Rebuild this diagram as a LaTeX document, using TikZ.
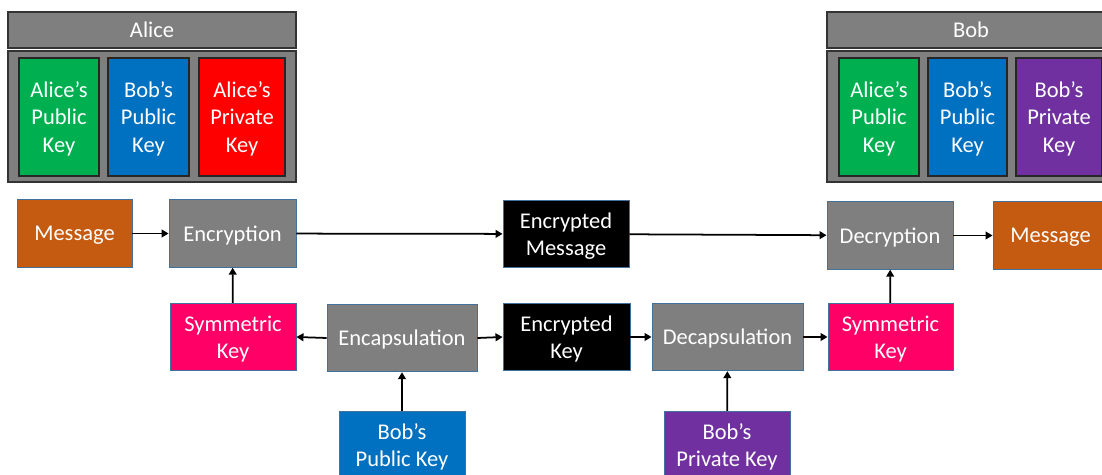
\documentclass[tikz,border=0pt]{standalone}
\usepackage{fontspec}
\setmainfont{Carlito}
\usetikzlibrary{arrows.meta}
\definecolor{boxgrey}{RGB}{127,127,127}
\definecolor{edgeblue}{RGB}{65,113,156}
\definecolor{keygreen}{RGB}{0,176,80}
\definecolor{keyblue}{RGB}{0,112,192}
\definecolor{keyred}{RGB}{255,0,0}
\definecolor{keypurple}{RGB}{112,48,160}
\definecolor{msgorange}{RGB}{197,90,17}
\definecolor{sympink}{RGB}{255,0,102}
\tikzset{
    base/.style={
        text=white,
        align=center,
        inner sep=0pt,
        text depth=0pt,
        font=\fontsize{12.8}{15.5}\selectfont,
    },
    % Owner title bar
    head/.style={
        base,
        draw=black!80,
        fill=boxgrey,
        line width=0.8pt,
        minimum width=5.76cm,
        minimum height=0.72cm,
    },
    % Key store
    store/.style={
        draw=black!80,
        fill=boxgrey,
        line width=0.8pt,
        minimum width=5.76cm,
        minimum height=2.62cm,
    },
    % Stored key
    key/.style={
        base,
        draw=black!85,
        line width=0.8pt,
        minimum width=1.6cm,
        minimum height=2.36cm,
    },
    % Flow step
    stage/.style={
        base,
        draw=edgeblue,
        line width=0.5pt,
        minimum width=2.52cm,
        minimum height=1.35cm,
    },
    flow/.style={
        -{Triangle[length=4pt,width=4.4pt]},
        line width=1pt,
    },
}

\begin{document}
\begin{tikzpicture}[x=0.02cm,y=-0.02cm]
    \clip (0,0) rectangle (1102,475);
%OWNERS_BEGIN%
    \node[head] (alice) at (152,30) {Alice};
    \node[store] (aliceStore) at (152,116.5) {};
    \node[key,fill=keygreen] (aPubA) at (59,117) {Alice's\\Public\\Key};
    \node[key,fill=keyblue,minimum width=1.62cm] (aPubB) at (148.5,117) {Bob's\\Public\\Key};
    \node[key,fill=keyred,minimum width=1.72cm] (aPrivA) at (242,117) {Alice's\\Private\\Key};

    \node[head] (bob) at (971,30) {Bob};
    \node[store] (bobStore) at (971,116.5) {};
    \node[key,fill=keygreen] (bPubA) at (879,117) {Alice's\\Public\\Key};
    \node[key,fill=keyblue,minimum width=1.58cm] (bPubB) at (967.5,117) {Bob's\\Public\\Key};
    \node[key,fill=keypurple,minimum width=1.72cm] (bPrivB) at (1059,117) {Bob's\\Private\\Key};
%OWNERS_END%

%FLOW_BEGIN%
    \node[stage,fill=msgorange,minimum width=2.3cm] (msgIn) at (74.5,233.5) {Message};
    \node[stage,fill=boxgrey,minimum width=2.54cm] (encrypt) at (232.5,233.5) {Encryption};
    \node[stage,fill=black] (encMsg) at (566,234) {Encrypted\\Message};
    \node[stage,fill=boxgrey] (decrypt) at (890,235.5) {Decryption};
    \node[stage,fill=msgorange,minimum width=2.3cm] (msgOut) at (1050.5,235.5) {Message};

    \node[stage,fill=sympink] (symA) at (233,337) {Symmetric\\Key};
    \node[stage,fill=boxgrey,minimum width=3.0cm] (encap) at (402,338) {Encapsulation};
    \node[stage,fill=black,minimum width=2.54cm] (encKey) at (566.5,337) {Encrypted\\Key};
    \node[stage,fill=boxgrey,minimum width=3.02cm] (decap) at (727.5,337) {Decapsulation};
    \node[stage,fill=sympink,minimum width=2.5cm] (symB) at (890.5,337) {Symmetric\\Key};

    \node[stage,fill=keyblue] (pubB) at (402,445) {Bob's\\Public Key};
    \node[stage,fill=keypurple] (privB) at (727,445) {Bob's\\Private Key};
%FLOW_END%

    % Arrows
    \draw[flow] (msgIn) -- (encrypt);
    \draw[flow] (encrypt) -- (encMsg);
    \draw[flow] (encMsg) -- (decrypt);
    \draw[flow] (decrypt) -- (msgOut);
    \draw[flow] (symA) -- (encrypt);
    \draw[flow] (encap.west) -- (symA.east);
    \draw[flow] (encap.east) -- (encKey.west);
    \draw[flow] (encKey.east) -- (decap.west);
    \draw[flow] (decap.east) -- (symB.west);
    \draw[flow] (symB) -- (decrypt);
    \draw[flow] (pubB) -- (encap);
    \draw[flow] (privB) -- (decap);
\end{tikzpicture}
\end{document}
